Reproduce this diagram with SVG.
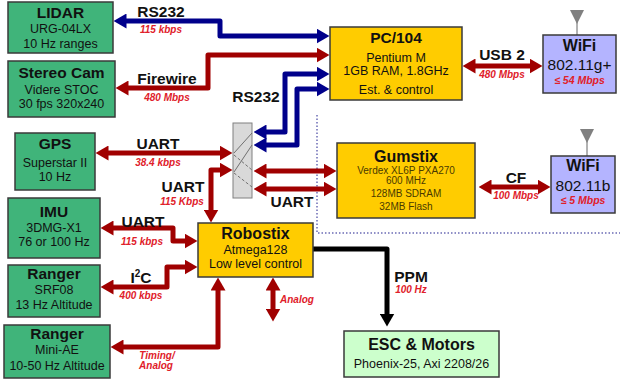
<svg xmlns="http://www.w3.org/2000/svg" width="620" height="383" viewBox="0 0 620 383">
<style>
text{font-family:"Liberation Sans",Arial,sans-serif;text-anchor:middle;fill:#111}
.t{font-weight:bold;font-size:15.5px}
.b{font-size:12.5px}
.s{font-size:10px;fill:#4a3a00}
.l{font-weight:bold;font-size:15.5px}
.r{font-weight:bold;font-style:italic;font-size:10px;fill:#e0202a}
.g{fill:#40b47a;stroke:#3a3a3a;stroke-width:1.5}
.y{fill:#ffcc00;stroke:#3a3a3a;stroke-width:1.5}
.w{fill:#b4b4ff;stroke:#3a3a3a;stroke-width:1.5}
.e{fill:#ccffcc;stroke:#3a3a3a;stroke-width:1.5}
.red{fill:none;stroke:#a00000;stroke-width:5;stroke-linejoin:round;marker-start:url(#ar);marker-end:url(#ar)}
.blue{fill:none;stroke:#00008b;stroke-width:5;stroke-linejoin:round;marker-start:url(#ab);marker-end:url(#ab)}
.blk{fill:none;stroke:#000;stroke-width:5;stroke-linejoin:round;marker-end:url(#ak)}
</style>
<defs>
<marker id="ar" markerUnits="userSpaceOnUse" markerWidth="13" markerHeight="15" viewBox="0 0 13 15" refX="0.5" refY="7.5" orient="auto-start-reverse"><path d="M0,0 L13,7.5 L0,15 z" fill="#a00000"/></marker>
<marker id="ab" markerUnits="userSpaceOnUse" markerWidth="13" markerHeight="15" viewBox="0 0 13 15" refX="0.5" refY="7.5" orient="auto-start-reverse"><path d="M0,0 L13,7.5 L0,15 z" fill="#00008b"/></marker>
<marker id="ak" markerUnits="userSpaceOnUse" markerWidth="13" markerHeight="15" viewBox="0 0 13 15" refX="0.5" refY="7.5" orient="auto-start-reverse"><path d="M0,0 L13,7.5 L0,15 z" fill="#000"/></marker>
</defs>
<rect width="620" height="383" fill="#fff"/>
<g id="region" fill="none" stroke="#6b6bb5" stroke-width="1.5" stroke-dasharray="1.5 2">
<path d="M317,115 V233 H620"/>
</g>
<g id="connectors">
<path class="blue" d="M126,21 H220 V36 H317"/>
<path class="red" d="M128,88 H208 V55 H317"/>
<path class="blue" d="M266,132 H285 V74 H317"/>
<path class="blue" d="M266,145 H297 V89 H317"/>
<path class="red" d="M475,66 H530"/>
<path class="red" d="M108,153 H220"/>
<path class="red" d="M220,170 H211 V210"/>
<path class="red" d="M266,171 H324"/>
<path class="red" d="M266,189 H324"/>
<path class="red" d="M491,187 H538"/>
<path class="red" d="M113,228 H173 V241 H185"/>
<path class="red" d="M113,287 H167 V267 H185"/>
<path class="red" d="M123,347 H218 V290"/>
<path class="red" d="M273,290 V309"/>
<path class="blk" d="M313,249 H387 V314"/>
<text class="l" x="161" y="17">RS232</text><text class="r" x="161" y="33">115 kbps</text>
<text class="l" x="167" y="84">Firewire</text><text class="r" x="167" y="101">480 Mbps</text>
<text class="l" x="256" y="102">RS232</text>
<text class="l" x="502" y="60">USB 2</text><text class="r" x="502" y="78">480 Mbps</text>
<text class="l" x="158" y="149">UART</text><text class="r" x="158" y="166">38.4 kbps</text>
<text class="l" x="183" y="192">UART</text><text class="r" x="182" y="205">115 Kbps</text>
<text class="l" x="292" y="207">UART</text>
<text class="l" x="516" y="183">CF</text><text class="r" x="516" y="199">100 Mbps</text>
<text class="l" x="143" y="227">UART</text><text class="r" x="142" y="245">115 kbps</text>
<text class="l" x="141" y="283">I<tspan font-size="10px" dy="-6">2</tspan><tspan dy="6">C</tspan></text><text class="r" x="141" y="299">400 kbps</text>
<text class="r" x="157" y="359">Timing/</text><text class="r" x="156" y="369">Analog</text>
<text class="r" x="280" y="303" style="text-anchor:start">Analog</text>
<text class="l" x="411" y="282">PPM</text><text class="r" x="411" y="293">100 Hz</text>
</g>
<g id="switch">
<rect x="233" y="123" width="19" height="75" fill="#d9d9d9" stroke="#808080" stroke-width="1"/>
<g stroke="#707070" stroke-width="1">
<line x1="234" y1="153" x2="252" y2="133"/>
<line x1="234" y1="172" x2="252" y2="145"/>
<line x1="234" y1="155" x2="252" y2="170" stroke-dasharray="3 2"/>
<line x1="234" y1="173" x2="252" y2="187" stroke-dasharray="3 2"/>
</g>
</g>
<g id="lidar"><rect class="g" x="8" y="2" width="105" height="51"/>
<text class="t" x="60.5" y="18">LIDAR</text><text class="b" x="60.5" y="33">URG-04LX</text><text class="b" x="60.5" y="48">10 Hz ranges</text></g>
<g id="stereo"><rect class="g" x="8" y="61" width="107" height="56"/>
<text class="t" x="61.5" y="78">Stereo Cam</text><text class="b" x="61.5" y="94">Videre STOC</text><text class="b" x="61.5" y="108">30 fps 320x240</text></g>
<g id="gps"><rect class="g" x="15" y="133" width="80" height="57"/>
<text class="t" x="55" y="149">GPS</text><text class="b" x="55" y="167">Superstar II</text><text class="b" x="55" y="181">10 Hz</text></g>
<g id="imu"><rect class="g" x="8" y="198" width="92" height="60"/>
<text class="t" x="54" y="217">IMU</text><text class="b" x="54" y="232">3DMG-X1</text><text class="b" x="54" y="246">76 or 100 Hz</text></g>
<g id="ranger1"><rect class="g" x="8" y="265" width="92" height="52"/>
<text class="t" x="54" y="279">Ranger</text><text class="b" x="54" y="294">SRF08</text><text class="b" x="54" y="309">13 Hz Altitude</text></g>
<g id="ranger2"><rect class="g" x="4" y="325" width="106" height="53"/>
<text class="t" x="57" y="339">Ranger</text><text class="b" x="57" y="354">Mini-AE</text><text class="b" x="57" y="370">10-50 Hz Altitude</text></g>
<g id="pc104"><rect class="y" x="330" y="27" width="132" height="73"/>
<text class="t" x="396" y="43">PC/104</text><text class="b" x="396" y="61.5">Pentium M</text><text class="b" x="396" y="75">1GB RAM, 1.8GHz</text><text class="b" x="396" y="94">Est. &amp; control</text></g>
<g id="wifi-g"><line x1="577" y1="22" x2="577" y2="35" stroke="#666" stroke-width="1"/><polygon points="570,10 584,10 577,24" fill="#808080"/>
<rect class="w" x="543" y="35" width="73" height="58"/>
<text class="t" x="579.5" y="51" style="font-size:16px">WiFi</text><text x="579.5" y="70" style="font-size:15.5px">802.11g+</text><text class="r" x="579.5" y="84" style="font-size:10.5px">≤ 54 Mbps</text></g>
<g id="gumstix"><rect class="y" x="337" y="143" width="138" height="75"/>
<text class="t" x="406" y="162" style="font-size:16px">Gumstix</text><text class="s" x="406" y="174">Verdex XL6P PXA270</text><text class="s" x="406" y="184">600 MHz</text><text class="s" x="406" y="197">128MB SDRAM</text><text class="s" x="406" y="210">32MB Flash</text></g>
<g id="wifi-b"><line x1="587" y1="141" x2="587" y2="156" stroke="#666" stroke-width="1"/><polygon points="580,129 594,129 587,143" fill="#808080"/>
<rect class="w" x="551" y="156" width="64" height="57"/>
<text class="t" x="583" y="171" style="font-size:16px">WiFi</text><text x="583" y="191" style="font-size:15.5px">802.11b</text><text class="r" x="583" y="204" style="font-size:10.5px">≤ 5 Mbps</text></g>
<g id="robostix"><rect class="y" x="198" y="223" width="115" height="54"/>
<text class="t" x="255.5" y="239" style="font-size:16px">Robostix</text><text class="b" x="255.5" y="254">Atmega128</text><text class="b" x="255.5" y="268">Low level control</text></g>
<g id="esc"><rect class="e" x="344" y="331" width="155" height="46"/>
<text class="t" x="421.5" y="350" style="font-size:16px">ESC &amp; Motors</text><text class="b" x="421.5" y="368">Phoenix-25, Axi 2208/26</text></g>
</svg>
